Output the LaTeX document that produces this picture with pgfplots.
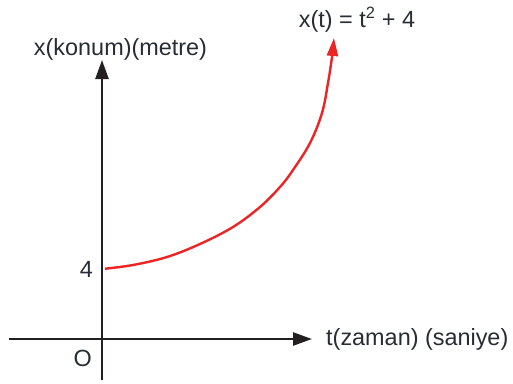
\documentclass[border=0pt]{standalone}
\usepackage{pgfplots}
\pgfplotsset{compat=1.18}
\usepackage{fontspec}
\setmainfont{Liberation Sans}
\usetikzlibrary{arrows.meta}
\definecolor{axcol}{RGB}{35,31,32}
\definecolor{txtcol}{RGB}{40,45,52}
\definecolor{curvered}{RGB}{236,36,36}
\newcommand{\lblfont}{\fontsize{23.5}{26}\selectfont}
\begin{document}
\begin{tikzpicture}
\begin{axis}[
  x=1bp, y=1bp,
  axis lines=middle,
  xmin=-93, xmax=210, ymin=-41, ymax=279,
  axis line style={axcol, line width=2.5bp, -{Triangle[length=19bp,width=13bp]}},
  xtick=\empty, ytick=\empty,
  clip=false,
]
\addplot[curvered, line width=2.4bp, smooth, tension=0.6, -{Triangle[length=18bp,width=11bp]}] coordinates {
  (3,70.3) (31,74) (65,82) (98,95) (131,112) (158,132) (178,152) (191,169) (208,196) (220,226) (226,256) (230,282) (232,301)
};
\node[txtcol, anchor=base, font=\lblfont] at (axis cs:18.5,284) {x(konum)(metre)};
\node[txtcol, anchor=base, font=\lblfont] at (axis cs:255,312) {x(t) = t\textsuperscript{2} + 4};
\node[txtcol, anchor=base east, inner sep=0pt, font=\lblfont] at (axis cs:-9,62) {4};
\node[txtcol, anchor=base east, inner sep=0pt, font=\lblfont] at (axis cs:-10,-27) {O};
\node[txtcol, anchor=base west, inner sep=0pt, font=\lblfont] at (axis cs:224,-6) {t(zaman) (saniye)};
\coordinate (bl) at (axis cs:-102,-44);
\coordinate (tr) at (axis cs:411,339);
\end{axis}
\pgfresetboundingbox
\useasboundingbox (bl) rectangle (tr);
\end{tikzpicture}
\end{document}
